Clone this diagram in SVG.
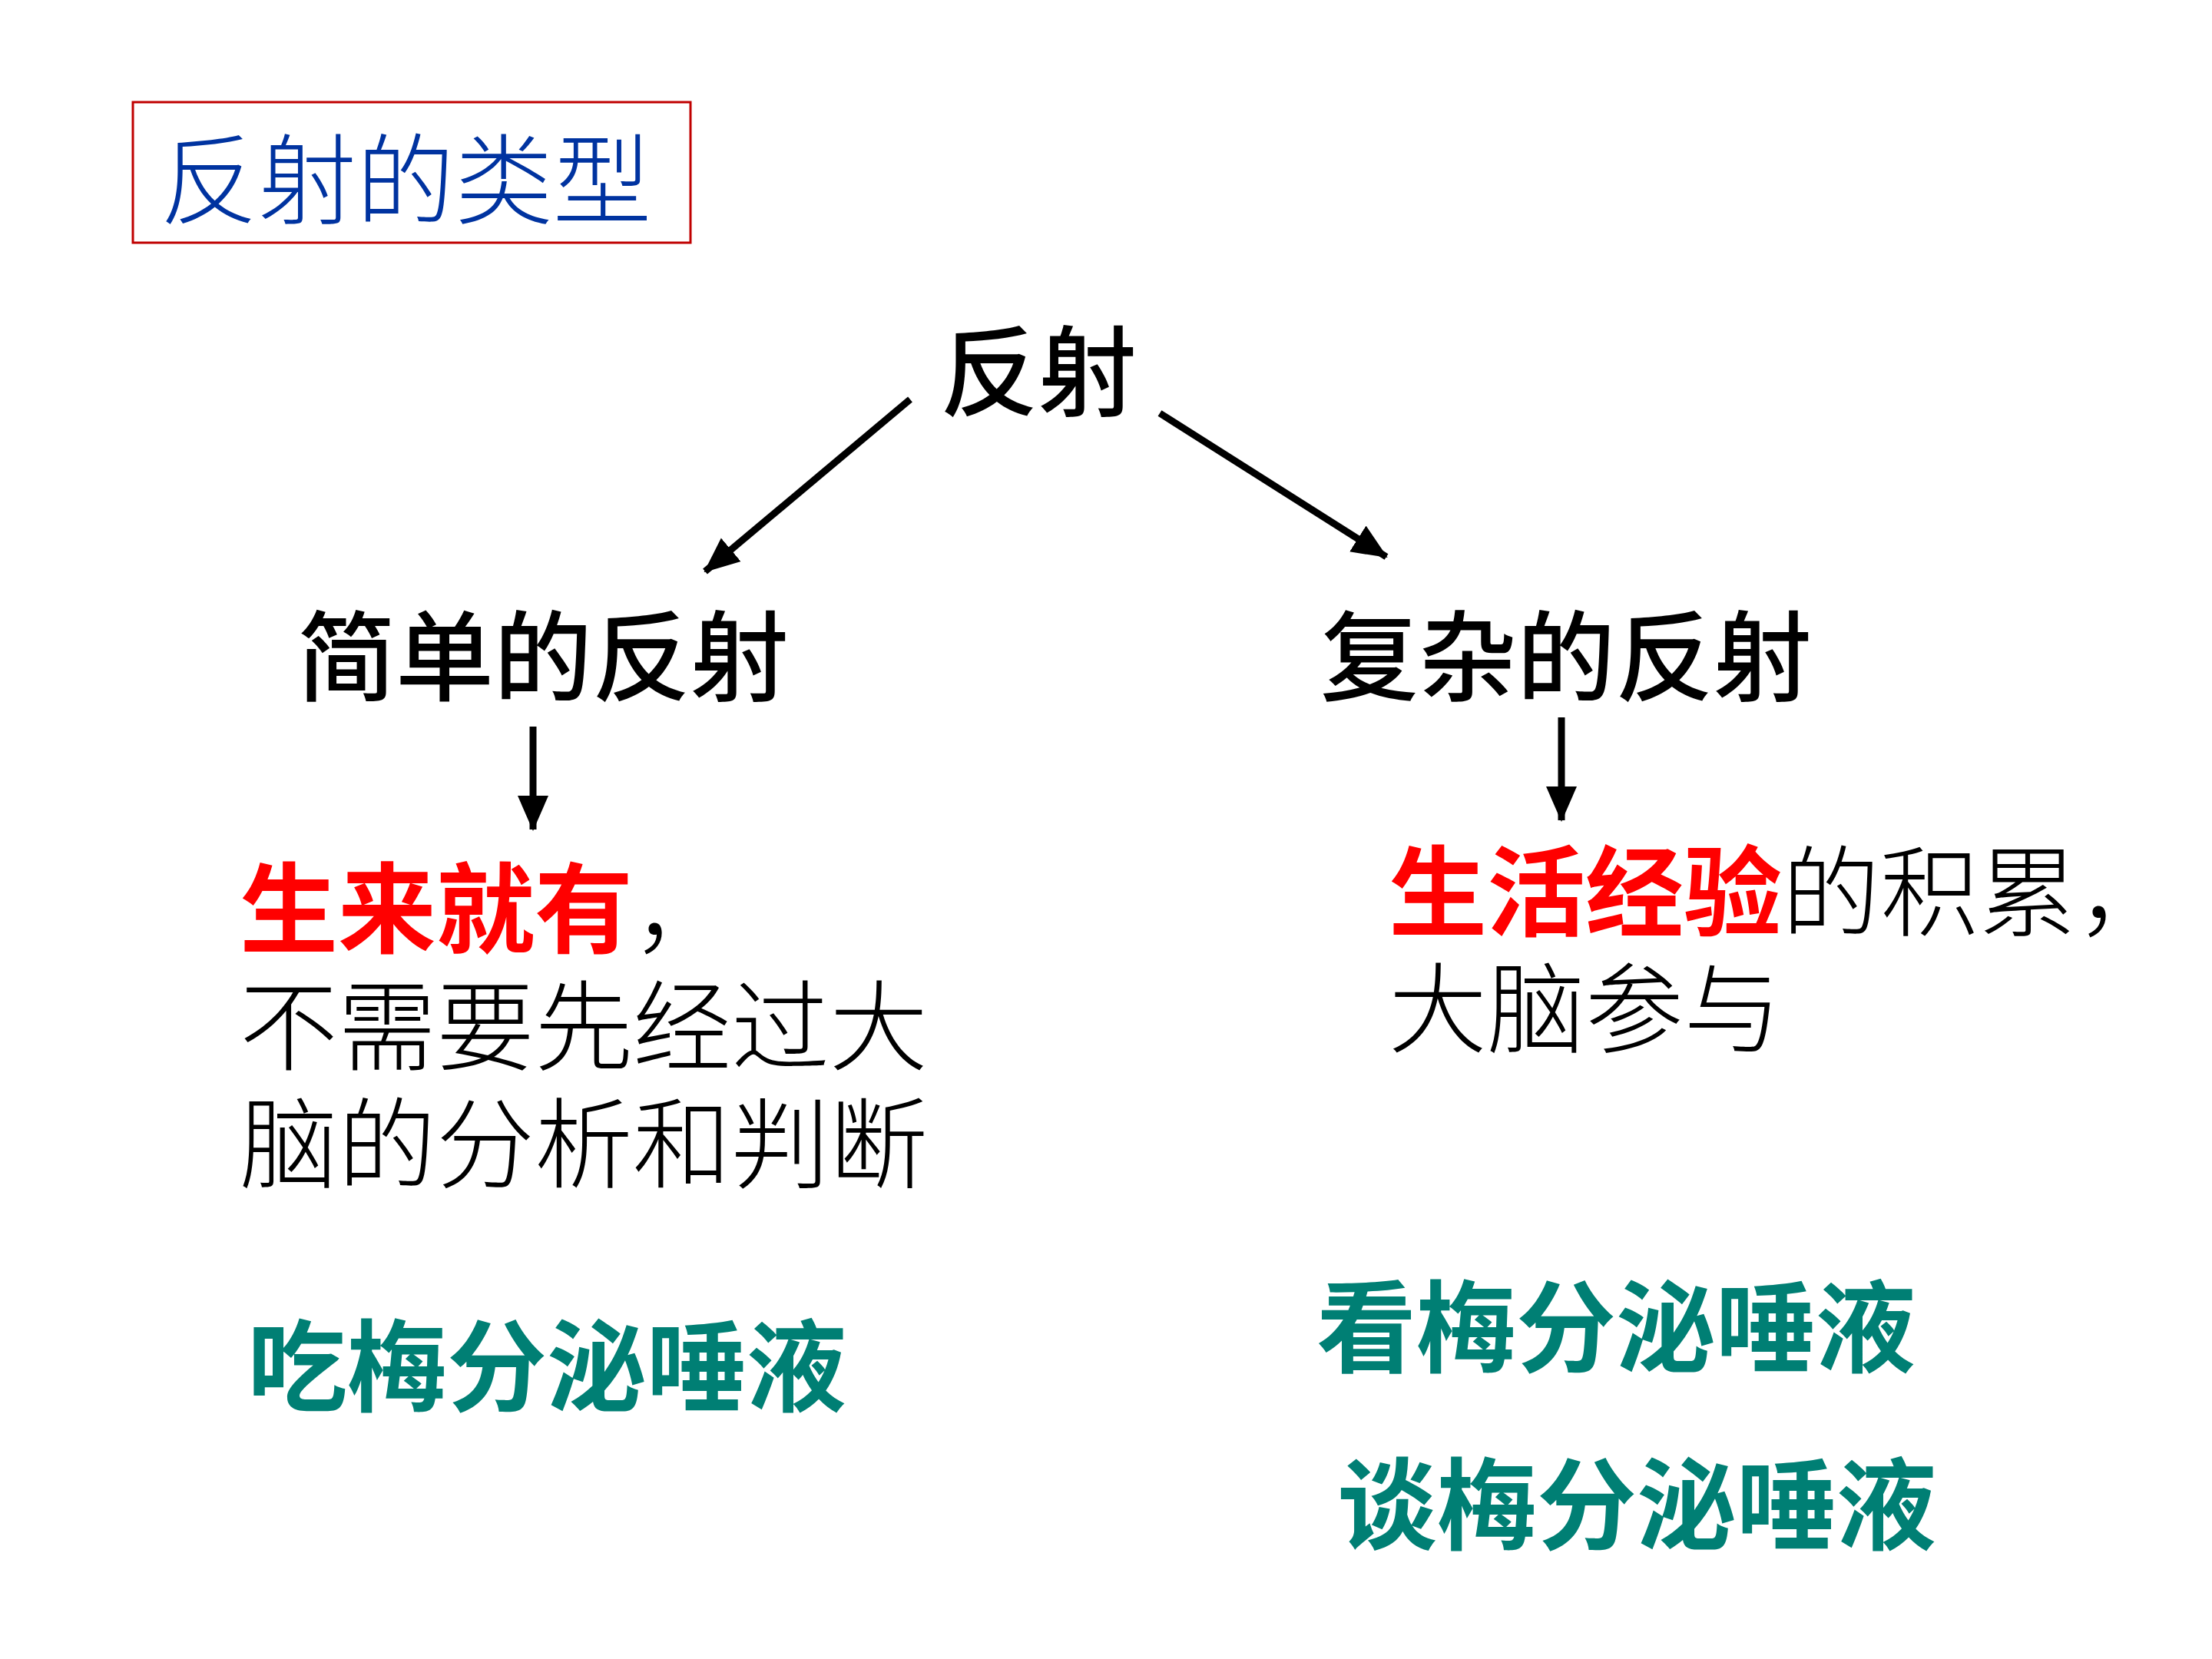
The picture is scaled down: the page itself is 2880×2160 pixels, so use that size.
<svg xmlns="http://www.w3.org/2000/svg" width="2880" height="2160" viewBox="0 0 2880 2160">
<defs>
<style>
text{font-family:"Noto Sans CJK SC",sans-serif;}
.body{font-size:128px;fill:#000;font-weight:300;}
.head{font-size:128px;fill:#000;font-weight:500;}
.red{fill:#FF0000;font-weight:700;}
.teal{font-size:130px;fill:#007F74;font-weight:700;}
.title{font-size:128px;fill:#0033A0;font-weight:300;}
.conn{stroke:#000;stroke-width:9;fill:none;marker-end:url(#ah);}
</style>
<marker id="ah" markerUnits="userSpaceOnUse" markerWidth="46" markerHeight="44" viewBox="0 0 46 44" refX="44" refY="22" orient="auto">
<path d="M0,2 L46,22 L0,42 Z" fill="#000"/>
</marker>
</defs>
<rect width="2880" height="2160" fill="#fff"/>
<g id="title">
<rect x="173" y="133" width="726" height="183" fill="none" stroke="#C00000" stroke-width="3"/>
<text class="title" x="528" y="282" text-anchor="middle">反射的类型</text>
</g>
<g id="root"><text class="head" x="1352" y="532" text-anchor="middle">反射</text></g>
<g id="simple"><text class="head" x="707" y="903" text-anchor="middle">简单的反射</text></g>
<g id="complex"><text class="head" x="2039" y="903" text-anchor="middle">复杂的反射</text></g>
<g id="simple-desc">
<text class="body" x="312" y="1231"><tspan class="red">生来就有</tspan>，<tspan x="312" y="1384">不需要先经过大</tspan><tspan x="312" y="1537">脑的分析和判断</tspan></text>
</g>
<g id="complex-desc">
<text class="body" x="1808" y="1209"><tspan class="red">生活经验</tspan>的积累，<tspan x="1808" y="1361">大脑参与</tspan></text>
</g>
<g id="ex1"><text class="teal" x="322" y="1827">吃梅分泌唾液</text></g>
<g id="ex2"><text class="teal" x="1714" y="1776">看梅分泌唾液</text></g>
<g id="ex3"><text class="teal" x="1741" y="2007">谈梅分泌唾液</text></g>
<g id="connectors">
<line class="conn" x1="1185" y1="520" x2="918" y2="744"/>
<line class="conn" x1="1510" y1="538" x2="1805" y2="725"/>
<line class="conn" x1="694" y1="946" x2="694" y2="1080"/>
<line class="conn" x1="2033" y1="934" x2="2033" y2="1068"/>
</g>
</svg>
